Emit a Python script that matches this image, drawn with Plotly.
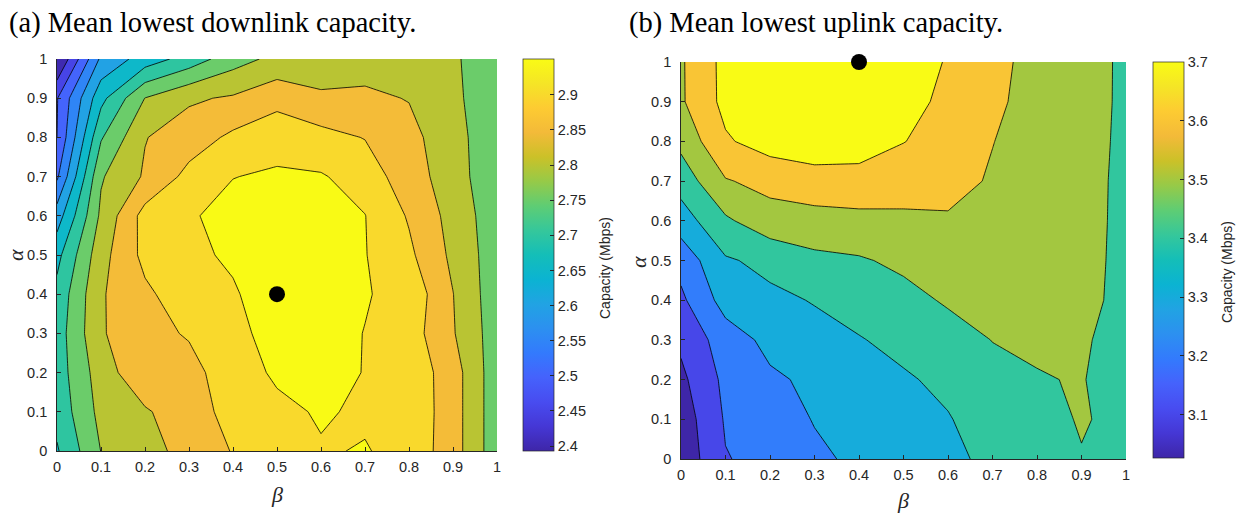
import plotly.graph_objects as go

# ---------------- data ----------------
beta = [0.0, 0.1, 0.2, 0.3, 0.4, 0.5, 0.6, 0.7, 0.8, 0.9, 1.0]
alpha = [0.0, 0.1, 0.2, 0.3, 0.4, 0.5, 0.6, 0.7, 0.8, 0.9, 1.0]

# (a) mean lowest downlink capacity (Mbps); rows = alpha, columns = beta
downlink_capacity = [
    [2.670, 2.776, 2.799, 2.850, 2.877, 2.900, 2.921, 2.928, 2.908, 2.848, 2.744],
    [2.692, 2.790, 2.819, 2.855, 2.890, 2.913, 2.930, 2.918, 2.911, 2.848, 2.744],
    [2.700, 2.800, 2.864, 2.860, 2.900, 2.933, 2.935, 2.924, 2.909, 2.848, 2.744],
    [2.700, 2.820, 2.861, 2.879, 2.910, 2.945, 2.940, 2.924, 2.899, 2.829, 2.748],
    [2.690, 2.820, 2.865, 2.905, 2.920, 2.951, 2.944, 2.928, 2.910, 2.826, 2.744],
    [2.660, 2.807, 2.889, 2.915, 2.932, 2.947, 2.943, 2.927, 2.885, 2.814, 2.747],
    [2.600, 2.785, 2.894, 2.920, 2.940, 2.940, 2.940, 2.926, 2.870, 2.807, 2.745],
    [2.517, 2.770, 2.831, 2.890, 2.924, 2.931, 2.929, 2.905, 2.844, 2.804, 2.728],
    [2.475, 2.720, 2.823, 2.850, 2.885, 2.908, 2.892, 2.873, 2.840, 2.794, 2.739],
    [2.472, 2.660, 2.776, 2.818, 2.831, 2.858, 2.832, 2.834, 2.823, 2.790, 2.728],
    [2.370, 2.585, 2.648, 2.696, 2.754, 2.789, 2.800, 2.805, 2.800, 2.785, 2.730],
]

# (b) mean lowest uplink capacity (Mbps); rows = alpha, columns = beta
uplink_capacity = [
    [2.980, 3.145, 3.180, 3.235, 3.265, 3.300, 3.335, 3.365, 3.390, 3.444, 3.400],
    [2.993, 3.160, 3.210, 3.254, 3.280, 3.320, 3.345, 3.390, 3.410, 3.459, 3.420],
    [3.027, 3.174, 3.235, 3.268, 3.300, 3.340, 3.369, 3.420, 3.440, 3.460, 3.360],
    [3.070, 3.201, 3.276, 3.320, 3.345, 3.374, 3.410, 3.452, 3.475, 3.465, 3.403],
    [3.130, 3.290, 3.330, 3.355, 3.385, 3.420, 3.461, 3.490, 3.500, 3.490, 3.410],
    [3.185, 3.339, 3.375, 3.430, 3.440, 3.470, 3.500, 3.510, 3.510, 3.500, 3.409],
    [3.301, 3.434, 3.511, 3.504, 3.523, 3.535, 3.540, 3.530, 3.515, 3.510, 3.407],
    [3.392, 3.543, 3.579, 3.625, 3.613, 3.585, 3.580, 3.541, 3.515, 3.510, 3.410],
    [3.477, 3.638, 3.694, 3.686, 3.697, 3.653, 3.605, 3.552, 3.512, 3.500, 3.423],
    [3.537, 3.678, 3.695, 3.697, 3.699, 3.680, 3.630, 3.580, 3.494, 3.490, 3.432],
    [3.538, 3.680, 3.690, 3.697, 3.700, 3.685, 3.645, 3.570, 3.527, 3.510, 3.424],
]

# optimum markers
down_best_beta, down_best_alpha = [0.5], [0.4]
up_best_beta, up_best_alpha = [0.4], [1.0]

# colour-bar limits and ticks
down_clim = [2.393, 2.951]
up_clim = [3.026, 3.7]
down_cbar_ticks = [2.4, 2.45, 2.5, 2.55, 2.6, 2.65, 2.7, 2.75, 2.8, 2.85, 2.9]
up_cbar_ticks = [3.1, 3.2, 3.3, 3.4, 3.5, 3.6, 3.7]
axis_ticks = [0, 0.1, 0.2, 0.3, 0.4, 0.5, 0.6, 0.7, 0.8, 0.9, 1]

# contour levels (start, end, step)
down_levels = (2.425, 2.925, 0.05)
up_levels = (3.05, 3.65, 0.1)

# ---------------- parula colormap ----------------
PARULA = [
    (0.2422, 0.1504, 0.6603), (0.2704, 0.2138, 0.8346), (0.2813, 0.2985, 0.9397),
    (0.2710, 0.3860, 0.9898), (0.2006, 0.4803, 0.9906), (0.1716, 0.5655, 0.9393),
    (0.1288, 0.6408, 0.8910), (0.0433, 0.7039, 0.8242), (0.0770, 0.7468, 0.7224),
    (0.2061, 0.7808, 0.6065), (0.3671, 0.8021, 0.4563), (0.5886, 0.7913, 0.2833),
    (0.7945, 0.7554, 0.1570), (0.9523, 0.7284, 0.2237), (0.9938, 0.7974, 0.1974),
    (0.9601, 0.8963, 0.1507), (0.9769, 0.9839, 0.0805),
]


def parula(t):
    t = min(max(t, 0.0), 1.0)
    n = len(PARULA) - 1
    f = t * n
    i = min(int(f), n - 1)
    w = f - i
    c = [PARULA[i][k] * (1 - w) + PARULA[i + 1][k] * w for k in range(3)]
    return "rgb(%d,%d,%d)" % tuple(round(v * 255) for v in c)


parula_scale = [[i / (len(PARULA) - 1), parula(i / (len(PARULA) - 1))] for i in range(len(PARULA))]


def band_scale(levels, clim):
    start, end, step = levels
    nc = int(round((end - start) / step)) + 1
    scale = []
    for k in range(nc + 1):
        v = start + (k - 0.5) * step
        scale.append([k / nc, parula((v - clim[0]) / (clim[1] - clim[0]))])
    return scale


# ---------------- figure ----------------
W, H = 1245, 516
FONT = "Liberation Sans, Arial, Helvetica, sans-serif"
SERIF = "Liberation Serif, Times New Roman, serif"
TXT = "#262626"

fig = go.Figure()

panels = [
    dict(z=downlink_capacity, levels=down_levels, clim=down_clim, ticks=down_cbar_ticks,
         bx=down_best_beta, by=down_best_alpha, xa="x", ya="y",
         cbar_x=523, cbar_top=59, cbar_bot=451),
    dict(z=uplink_capacity, levels=up_levels, clim=up_clim, ticks=up_cbar_ticks,
         bx=up_best_beta, by=up_best_alpha, xa="x2", ya="y2",
         cbar_x=1153, cbar_top=62, cbar_bot=458),
]

for p in panels:
    s, e, st = p["levels"]
    fig.add_trace(go.Contour(
        x=beta, y=alpha, z=p["z"], xaxis=p["xa"], yaxis=p["ya"],
        autocontour=False,
        contours=dict(start=s, end=e, size=st, coloring="fill", showlines=True),
        line=dict(color="black", width=0.8, smoothing=0),
        colorscale=band_scale(p["levels"], p["clim"]),
        showscale=False, hoverinfo="skip",
    ))
    cb_len = (p["cbar_bot"] - p["cbar_top"]) / H
    cb_y = 1 - (p["cbar_top"] + p["cbar_bot"]) / 2 / H
    fig.add_trace(go.Scatter(
        x=[0.5], y=[0.5], xaxis=p["xa"], yaxis=p["ya"], mode="markers",
        marker=dict(size=1, opacity=0, color=[p["clim"][0]], colorscale=parula_scale,
                    cmin=p["clim"][0], cmax=p["clim"][1], showscale=True,
                    colorbar=dict(
                        x=p["cbar_x"] / W, xanchor="left", y=cb_y, yanchor="middle",
                        len=cb_len, lenmode="fraction", thickness=31, thicknessmode="pixels",
                        xpad=0, ypad=0, outlinewidth=0.7, outlinecolor=TXT,
                        ticks="inside", ticklen=4, tickcolor=TXT,
                        tickvals=p["ticks"], ticktext=[("%g" % v) for v in p["ticks"]],
                        tickfont=dict(family=FONT, size=14.5, color=TXT),
                    )),
        hoverinfo="skip", showlegend=False,
    ))
    fig.add_trace(go.Scatter(
        x=p["bx"], y=p["by"], xaxis=p["xa"], yaxis=p["ya"], mode="markers",
        marker=dict(color="black", size=16), cliponaxis=False,
        hoverinfo="skip", showlegend=False,
    ))

axis_common = dict(
    range=[0, 1], tickvals=axis_ticks, ticktext=[("%g" % v) for v in axis_ticks],
    ticks="inside", ticklen=4, tickcolor=TXT,
    showline=True, linecolor=TXT, linewidth=0.7, mirror=False,
    showgrid=True, gridcolor="rgba(255,255,255,0.28)", gridwidth=1,
    zeroline=False, layer="above traces", automargin=False,
    tickfont=dict(family=FONT, size=14.5, color=TXT),
)


def label(text, x, y, size, family, angle=0, color=TXT, xanchor="center"):
    return dict(text=text, x=x / W, y=1 - y / H, xref="paper", yref="paper",
                xanchor=xanchor, yanchor="middle", showarrow=False, textangle=angle,
                font=dict(family=family, size=size, color=color))


fig.update_layout(
    width=W, height=H, margin=dict(l=0, r=0, t=0, b=0, autoexpand=False),
    paper_bgcolor="white", plot_bgcolor="white", showlegend=False,
    xaxis=dict(axis_common, domain=[57 / W, 497 / W], anchor="y", ticklabelstandoff=3),
    yaxis=dict(axis_common, domain=[1 - 451 / H, 1 - 59 / H], anchor="x", ticklabelstandoff=6),
    xaxis2=dict(axis_common, domain=[681 / W, 1126 / W], anchor="y2", ticklabelstandoff=3),
    yaxis2=dict(axis_common, domain=[1 - 459 / H, 1 - 62 / H], anchor="x2", ticklabelstandoff=6),
    annotations=[
        label("(a) Mean lowest downlink capacity.", 7, 23, 28.5, SERIF, color="black", xanchor="left"),
        label("(b) Mean lowest uplink capacity.", 627, 23, 28.5, SERIF, color="black", xanchor="left"),
        label("<i>β</i>", 277, 494, 22, SERIF),
        label("<i>β</i>", 903, 500, 22, SERIF),
        label("<i>α</i>", 15, 255, 22, SERIF, angle=-90),
        label("<i>α</i>", 638, 262, 22, SERIF, angle=-90),
        label("Capacity (Mbps)", 605, 268, 14, FONT, angle=-90),
        label("Capacity (Mbps)", 1227, 272, 14, FONT, angle=-90),
    ],
)

fig.write_html(
    "out.html",
    config={"displayModeBar": False},
    post_script="document.body.style.margin='0';document.body.style.padding='0';",
)
